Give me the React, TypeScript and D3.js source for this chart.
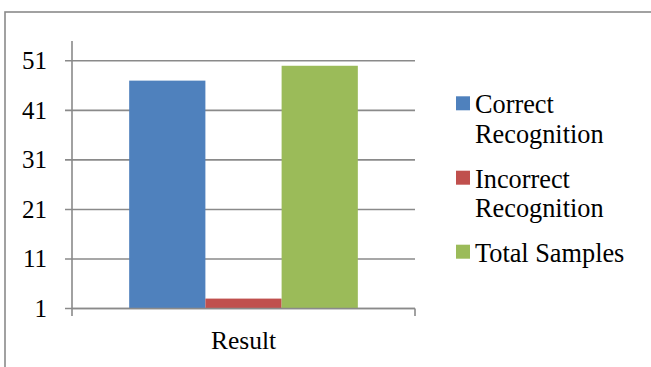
import React from "react";
import * as d3 from "d3";

const categories = ["Result"];
const seriesNames = ["Correct Recognition", "Incorrect Recognition", "Total Samples"];
const legendLines = [["Correct", "Recognition"], ["Incorrect", "Recognition"], ["Total Samples"]];
const seriesValues = [47, 3, 50];
const seriesColors = ["#4F81BD", "#C0504D", "#9BBB59"];
const yTicks = [1, 11, 21, 31, 41, 51];

const W = 651;
const H = 367;
const FONT = "'Liberation Serif', 'Times New Roman', serif";
const GRID = "#8a8a8a";

export default function App() {
  const left = 72;
  const right = 415;
  const y = d3.scaleLinear().domain([1, 55]).range([308.5, 41]);
  const x0 = d3.scaleBand<string>().domain(categories).range([left, right]).paddingInner(0).paddingOuter(0);
  // Excel gap width 150%: group occupies 3 bars, gap = 1.5 bar
  const groupW = x0.bandwidth();
  const barW = groupW / (seriesValues.length + 1.5);
  const x1 = d3
    .scaleBand<string>()
    .domain(seriesNames)
    .range([0, barW * seriesValues.length]);
  const groupOffset = (groupW - barW * seriesValues.length) / 2;

  const legendSquareX = 456;
  const legendTextX = 475;
  const legendBaselines = [[113.3, 142.7], [187.7, 216.7], [261.7]];

  return (
    <svg
      width={W}
      height={H}
      style={{ position: "absolute", left: 0, top: 0, background: "#fff" }}
      fontFamily={FONT}
    >
      <rect x={0} y={0} width={W} height={H} fill="#fff" />
      {/* outer chart border (cropped) */}
      <rect x={5} y={12} width={W + 20} height={H + 20} fill="none" stroke={GRID} strokeWidth={1.6} />

      {/* gridlines */}
      {yTicks.map((t) => (
        <line key={t} x1={left - 7} x2={right} y1={y(t)} y2={y(t)} stroke={GRID} strokeWidth={1.6} />
      ))}

      {/* bars */}
      {categories.map((c) =>
        seriesNames.map((s, i) => (
          <rect
            key={c + s}
            x={(x0(c) as number) + groupOffset + (x1(s) as number)}
            y={y(seriesValues[i])}
            width={x1.bandwidth()}
            height={y(1) - y(seriesValues[i])}
            fill={seriesColors[i]}
          />
        ))
      )}

      {/* axes */}
      <line x1={left} x2={left} y1={y(55)} y2={316} stroke={GRID} strokeWidth={1.6} />
      <line x1={left} x2={right} y1={y(1)} y2={y(1)} stroke={GRID} strokeWidth={1.6} />
      <line x1={right} x2={right} y1={y(1)} y2={316} stroke={GRID} strokeWidth={1.6} />

      {/* y tick labels */}
      {yTicks.map((t) => (
        <text key={t} x={47} y={y(t)} dy="0.34em" textAnchor="end" fontSize={25} fill="#000">
          {t}
        </text>
      ))}

      {/* category label */}
      {categories.map((c) => (
        <text
          key={c}
          x={(x0(c) as number) + groupW / 2}
          y={349.3}
          textAnchor="middle"
          fontSize={25.5}
          fill="#000"
        >
          {c}
        </text>
      ))}

      {/* legend */}
      {seriesNames.map((s, i) => (
        <g key={s}>
          <rect
            x={legendSquareX}
            y={legendBaselines[i][0] - 17}
            width={14}
            height={14}
            fill={seriesColors[i]}
          />
          {legendLines[i].map((line, j) => (
            <text key={j} x={legendTextX} y={legendBaselines[i][j]} fontSize={26.3} fill="#000">
              {line}
            </text>
          ))}
        </g>
      ))}
    </svg>
  );
}
